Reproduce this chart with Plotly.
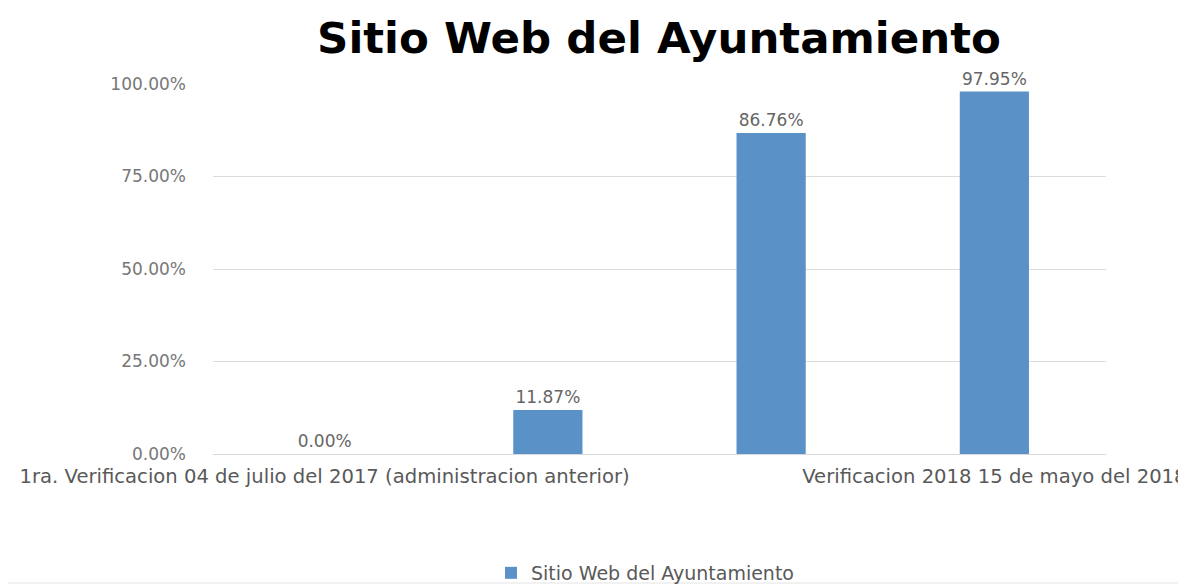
import plotly.graph_objects as go

categories = [
    "1ra. Verificacion 04 de julio del 2017 (administracion anterior)",
    "2da. Verificacion 2017",
    "3ra. Verificacion 2018",
    "Verificacion 2018 15 de mayo del 2018",
]
values = [0.00, 11.87, 86.76, 97.95]
y_ticks = [0, 25, 50, 75, 100]
series_name = "Sitio Web del Ayuntamiento"
title_text = "Sitio Web del Ayuntamiento"

shown_ticks = [categories[0], categories[3]]

# the page body has an 8px margin, so the figure is drawn 8px in from the corner
OFF = 8
W, H = 1186 - OFF, 584 - OFF
L, R, T, B = 213 - OFF, 1186 - 1106, 84 - OFF, 584 - 454
plot_w = W - L - R
plot_h = H - T - B

fig = go.Figure()
fig.add_trace(go.Bar(
    x=categories,
    y=values,
    name=series_name,
    marker=dict(color="#5a92c8", line=dict(width=0)),
    width=0.31,
    text=[f"{v:.2f}%" for v in values],
    textposition="outside",
    textfont=dict(family="DejaVu Sans", size=17, color="#666666"),
    cliponaxis=False,
    showlegend=True,
))

fig.update_layout(
    width=W, height=H,
    margin=dict(l=L, r=R, t=T, b=B, autoexpand=False),
    paper_bgcolor="white",
    plot_bgcolor="white",
    title=dict(
        text="<b>" + title_text + "</b>",
        font=dict(family="DejaVu Sans", size=43.5, color="#000000"),
        x=(659 - OFF) / W, xanchor="center", xref="container",
        y=1 - (38 - OFF) / H, yanchor="middle", yref="container",
    ),
    font=dict(family="DejaVu Sans", color="#666666"),
    showlegend=True,
    legend=dict(
        orientation="h",
        x=(645 - OFF - L) / plot_w, xanchor="center",
        y=(H - B - (573 - OFF)) / plot_h, yanchor="middle",
        font=dict(family="DejaVu Sans", size=19, color="#595959"),
        bgcolor="rgba(0,0,0,0)",
        itemwidth=30,
    ),
    xaxis=dict(
        type="category",
        categoryorder="array",
        categoryarray=categories,
        tickmode="array",
        tickvals=shown_ticks,
        ticktext=shown_ticks,
        tickfont=dict(family="DejaVu Sans", size=19.6, color="#595959"),
        ticks="",
        ticklabelstandoff=4,
        ticklabeloverflow="allow",
        showgrid=False,
        showline=True,
        linecolor="#d9d9d9",
        linewidth=1,
        tickangle=0,
    ),
    yaxis=dict(
        range=[0, 100],
        tickmode="array",
        tickvals=y_ticks,
        ticktext=[f"{v:.2f}%" for v in y_ticks],
        tickfont=dict(family="DejaVu Sans", size=17, color="#777777"),
        showgrid=True,
        gridcolor="#dcdcdc",
        gridwidth=1,
        zeroline=False,
        showline=False,
        ticks="",
        ticklabelstandoff=26,
    ),
    bargap=0.69,
)

line_y = (H - B - (583 - OFF)) / plot_h
fig.add_shape(
    type="line", xref="paper", yref="paper", layer="below",
    x0=-L / plot_w, x1=(W - L) / plot_w,
    y0=line_y, y1=line_y,
    line=dict(color="#e3e3e3", width=1),
)

fig.write_html("out.html")
